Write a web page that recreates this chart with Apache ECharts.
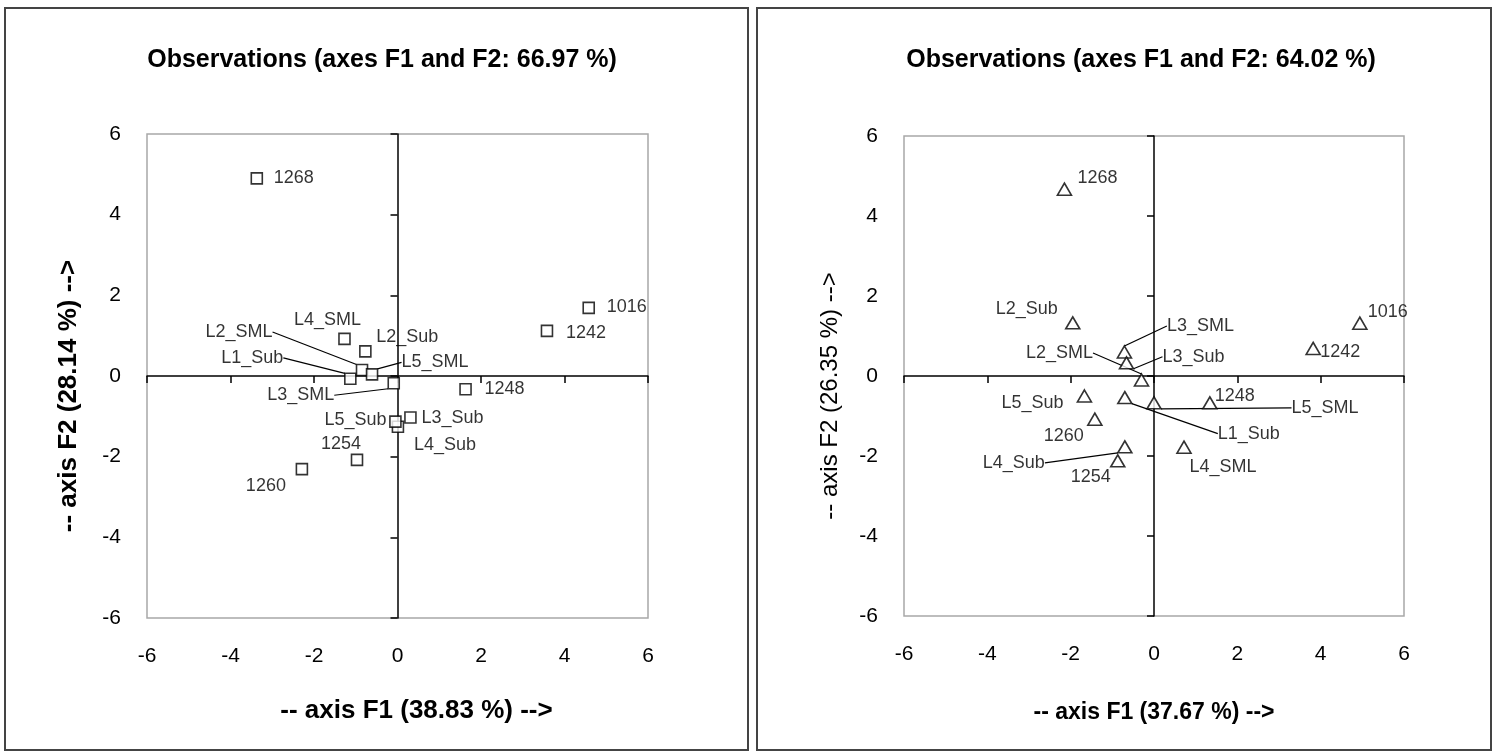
<!DOCTYPE html>
<html>
<head>
<meta charset="utf-8">
<title>Observations (axes F1 and F2)</title>
<script src="https://cdn.jsdelivr.net/npm/echarts/dist/echarts.min.js"></script>
<style>
	html, body { margin: 0; padding: 0; background: #fff; }
	#chart { width: 1496px; height: 752px; }
</style>
</head>
<body>
<div id="chart"></div>
<script>
	/* ---------------------------------------------
     Data
--------------------------------------------- */
	const names = ['1016', '1242', '1248', '1254', '1260', '1268', 'L1_Sub', 'L2_SML', 'L2_Sub', 'L3_SML', 'L3_Sub', 'L4_SML', 'L4_Sub', 'L5_SML', 'L5_Sub'];

	// left plot (F1 38.83 %, F2 28.14 %)
	const f1Left = [4.58, 3.58, 1.63, -0.97, -2.29, -3.37, -1.13, -0.85, -0.77, -0.09, 0.31, -1.27, 0.01, -0.61, -0.05];
	const f2Left = [1.69, 1.12, -0.33, -2.08, -2.31, 4.90, -0.07, 0.15, 0.61, -0.18, -1.03, 0.92, -1.26, 0.04, -1.13];

	// right plot (F1 37.67 %, F2 26.35 %)
	const f1Right = [4.94, 3.82, 1.34, -0.87, -1.42, -2.15, -0.70, -0.30, -1.95, -0.71, -0.66, 0.72, -0.70, 0.00, -1.67];
	const f2Right = [1.32, 0.69, -0.67, -2.12, -1.08, 4.67, -0.54, -0.10, 1.33, 0.60, 0.33, -1.78, -1.77, -0.67, -0.50];

	const ticks = [-6, -4, -2, 0, 2, 4, 6];

	// label placement (pixel shift of label centre from its point)
	const labelShiftLeft = [[38, -1], [39, 2], [39, 0], [-16, -16], [-36, 17], [37, 0], [-98, -21], [-123, -38], [42, -14], [-93, 12], [42, 0], [-17, -19], [47, 18], [63, -12], [-40, -2]];
	const labelShiftRight = [[28, -11], [27, 4], [25, -7], [-27, 16], [-31, 17], [33, -11], [124, 36], [-82, -27], [-46, -14], [76, -26], [67, -6], [39, 20], [-111, 16], [171, 5], [-52, 7]];
	const leadersLeft = ['L1_Sub', 'L2_SML', 'L3_SML', 'L5_SML'];
	const leadersRight = ['L1_Sub', 'L2_SML', 'L3_SML', 'L3_Sub', 'L4_Sub', 'L5_SML'];

	/* ---------------------------------------------
     Helpers
--------------------------------------------- */
	const FONT = 'Arial, "Liberation Sans", sans-serif';

	function buildPoints(xs, ys, leaders) {
		return names.map((n, i) => ({
			name: n,
			value: [xs[i], ys[i]],
			labelLine: { show: leaders.indexOf(n) >= 0 },
		}));
	}

	// one axis for the tick labels at the frame, one for the line through zero
	function axesFor(dim, grid, name, nameFont, nameGap, namePad) {
		const labelAxis = {
			type: 'value',
			gridIndex: grid,
			min: ticks[0],
			max: ticks[ticks.length - 1],
			interval: 2,
			position: dim === 'x' ? 'bottom' : 'left',
			axisLine: { show: false },
			axisTick: { show: false },
			splitLine: { show: false },
			axisLabel: { fontSize: 21, color: '#000', fontFamily: FONT, margin: dim === 'x' ? 28 : 26 },
			name,
			nameLocation: 'middle',
			nameGap,
			nameMoveOverlap: false,
			nameTextStyle: {
				fontSize: nameFont[0],
				fontWeight: nameFont[1],
				color: '#000',
				fontFamily: FONT,
				padding: namePad,
			},
		};
		const zeroAxis = {
			type: 'value',
			gridIndex: grid,
			min: ticks[0],
			max: ticks[ticks.length - 1],
			interval: 2,
			position: dim === 'x' ? 'bottom' : 'left',
			axisLine: { show: true, onZero: true, lineStyle: { color: '#000', width: 1.5 } },
			axisTick: { show: true, length: 7, lineStyle: { color: '#000', width: 1.5 } },
			axisLabel: { show: false },
			splitLine: { show: false },
		};
		return [labelAxis, zeroAxis];
	}

	const labelStyle = {
		show: true,
		position: 'inside',
		formatter: '{b}',
		fontSize: 18,
		color: '#000',
		fontFamily: FONT,
	};

	/* ---------------------------------------------
     Chart
--------------------------------------------- */
	const chart = echarts.init(document.getElementById('chart'), null, { renderer: 'canvas' });

	const xLeft = axesFor('x', 0, '-- axis F1 (38.83 %) -->', [26, 'bold'], 80, [0, 0, 0, 38]);
	const yLeft = axesFor('y', 0, '-- axis F2 (28.14 %) -->', [26, 'bold'], 65, [0, 40, 0, 0]);
	const xRight = axesFor('x', 1, '-- axis F1 (37.67 %) -->', [23, 'bold'], 85, [0, 0, 0, 0]);
	const yRight = axesFor('y', 1, '-- axis F2 (26.35 %) -->', [24, 'normal'], 62, [0, 40, 0, 0]);

	const titleStyle = { fontSize: 25, fontWeight: 'bold', color: '#000', fontFamily: FONT };

	const option = {
		backgroundColor: '#fff',
		animation: false,
		title: [
			{ text: 'Observations (axes F1 and F2: 66.97 %)', left: 377, top: 43, textAlign: 'center', textStyle: titleStyle },
			{ text: 'Observations (axes F1 and F2: 64.02 %)', left: 1136, top: 43, textAlign: 'center', textStyle: titleStyle },
		],
		graphic: [
			{ type: 'rect', shape: { x: 5, y: 8, width: 743, height: 742 }, style: { fill: 'none', stroke: '#444', lineWidth: 2 }, z: -1 },
			{ type: 'rect', shape: { x: 757, y: 8, width: 734, height: 742 }, style: { fill: 'none', stroke: '#444', lineWidth: 2 }, z: -1 },
		],
		grid: [
			{ left: 147, top: 134, width: 501, height: 484, show: true, borderColor: '#a8a8a8', borderWidth: 1.5, outerBoundsMode: 'none' },
			{ left: 904, top: 136, width: 500, height: 480, show: true, borderColor: '#a8a8a8', borderWidth: 1.5, outerBoundsMode: 'none' },
		],
		xAxis: [xLeft[0], xLeft[1], xRight[0], xRight[1]],
		yAxis: [yLeft[0], yLeft[1], yRight[0], yRight[1]],
		series: [
			{
				name: 'Left',
				type: 'scatter',
				xAxisIndex: 0,
				yAxisIndex: 0,
				symbol: 'rect',
				symbolSize: 11,
				itemStyle: { color: '#fff', borderColor: '#000', borderWidth: 1.6 },
				label: labelStyle,
				labelLine: { lineStyle: { color: '#000', width: 1.2 } },
				labelLayout(params) {
					const s = labelShiftLeft[params.dataIndex];
					return { dx: s[0], dy: s[1], hideOverlap: false };
				},
				data: buildPoints(f1Left, f2Left, leadersLeft),
			},
			{
				name: 'Right',
				type: 'scatter',
				xAxisIndex: 2,
				yAxisIndex: 2,
				symbol: 'triangle',
				symbolSize: [14, 12],
				itemStyle: { color: '#fff', borderColor: '#000', borderWidth: 1.6 },
				label: labelStyle,
				labelLine: { lineStyle: { color: '#000', width: 1.2 } },
				labelLayout(params) {
					const s = labelShiftRight[params.dataIndex];
					return { dx: s[0], dy: s[1], hideOverlap: false };
				},
				data: buildPoints(f1Right, f2Right, leadersRight),
			},
		],
	};

	chart.setOption(option);
</script>
</body>
</html>
